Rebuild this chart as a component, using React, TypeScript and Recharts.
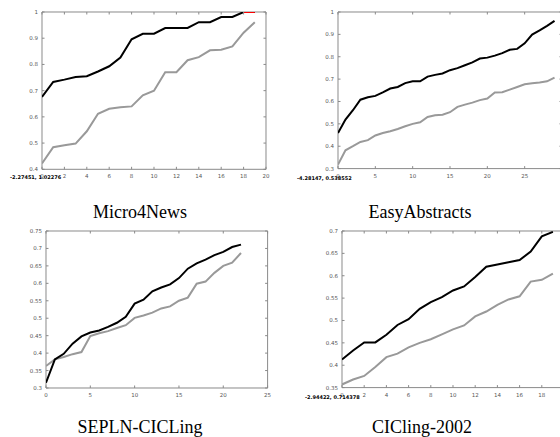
import React from 'react';
import { LineChart, Line, XAxis, YAxis, ReferenceArea } from 'recharts';

// ---- Micro4News ----
const micro4newsBlack = [0.676, 0.733, 0.742, 0.752, 0.755, 0.773, 0.793, 0.826, 0.896, 0.917, 0.917, 0.939, 0.939, 0.939, 0.961, 0.961, 0.981, 0.981, 1.0, 1.0];
const micro4newsGray = [0.422, 0.484, 0.492, 0.498, 0.545, 0.612, 0.631, 0.637, 0.640, 0.682, 0.700, 0.770, 0.770, 0.816, 0.828, 0.854, 0.856, 0.869, 0.921, 0.961];
const micro4newsRed: (number | null)[] = [null, null, null, null, null, null, null, null, null, null, null, null, null, null, null, null, null, null, 1.0, 1.0];
const micro4newsXTicks = [0, 2, 4, 6, 8, 10, 12, 14, 16, 18, 20];
const micro4newsYTicks = [0.4, 0.5, 0.6, 0.7, 0.8, 0.9, 1];

// ---- EasyAbstracts ----
const easyBlack = [0.459, 0.519, 0.561, 0.608, 0.619, 0.625, 0.641, 0.658, 0.665, 0.682, 0.690, 0.690, 0.711, 0.719, 0.725, 0.740, 0.749, 0.762, 0.775, 0.792, 0.796, 0.805, 0.816, 0.831, 0.835, 0.860, 0.899, 0.918, 0.938, 0.960];
const easyGray = [0.318, 0.382, 0.400, 0.419, 0.427, 0.448, 0.459, 0.467, 0.477, 0.489, 0.500, 0.507, 0.531, 0.538, 0.541, 0.552, 0.576, 0.586, 0.595, 0.606, 0.613, 0.640, 0.641, 0.653, 0.665, 0.677, 0.682, 0.685, 0.690, 0.707];
const easyXTicks = [0, 5, 10, 15, 20, 25];
const easyXMax = 30;
const easyYTicks = [0.3, 0.4, 0.5, 0.6, 0.7, 0.8, 0.9, 1];

// ---- SEPLN-CICLing ----
const seplnBlack = [0.315, 0.382, 0.398, 0.427, 0.448, 0.459, 0.465, 0.475, 0.487, 0.504, 0.542, 0.553, 0.577, 0.588, 0.597, 0.615, 0.642, 0.657, 0.668, 0.681, 0.690, 0.704, 0.711];
const seplnGray = [0.363, 0.382, 0.389, 0.397, 0.403, 0.449, 0.457, 0.463, 0.472, 0.480, 0.501, 0.508, 0.516, 0.528, 0.534, 0.550, 0.559, 0.599, 0.605, 0.630, 0.650, 0.659, 0.687];
const seplnXTicks = [0, 5, 10, 15, 20, 25];
const seplnYTicks = [0.3, 0.35, 0.4, 0.45, 0.5, 0.55, 0.6, 0.65, 0.7, 0.75];

// ---- CICling-2002 ----
const cicBlack = [0.413, 0.433, 0.451, 0.451, 0.468, 0.490, 0.503, 0.526, 0.541, 0.552, 0.567, 0.576, 0.597, 0.620, 0.625, 0.630, 0.635, 0.654, 0.688, 0.698];
const cicGray = [0.357, 0.368, 0.376, 0.396, 0.418, 0.426, 0.440, 0.450, 0.458, 0.469, 0.480, 0.489, 0.509, 0.520, 0.535, 0.547, 0.554, 0.587, 0.591, 0.605];
const cicXTicks = [0, 2, 4, 6, 8, 10, 12, 14, 16, 18];
const cicXMax = 20;
const cicYTicks = [0.35, 0.4, 0.45, 0.5, 0.55, 0.6, 0.65, 0.7];

const titles = ['Micro4News', 'EasyAbstracts', 'SEPLN-CICLing', 'CICling-2002'];
const cornerLabels = ['-2.27451, 1.02276', '-4.28147, 0.538552', '', '-2.94422, 0.714378'];

const FRAME = '#8a8a8a';
const TICKTXT = '#555';
const fmt = (v: number) => String(Math.round(v * 100) / 100);

type PanelProps = {
  black: number[];
  gray: number[];
  red?: (number | null)[];
  xTicks: number[];
  xMax?: number;
  yTicks: number[];
  plot: { left: number; top: number; width: number; height: number };
};

const LM = 40;
const TM = 5;

function Panel({ black, gray, red, xTicks, xMax, yTicks, plot }: PanelProps) {
  const data = black.map((b, i) => ({ x: i, b, g: gray[i], r: red ? red[i] : null }));
  const W = plot.width + LM + 10;
  const H = plot.height + TM + 20;
  const top = TM;
  const bottom = TM + plot.height;
  const left = LM;
  const right = LM + plot.width;
  const xMin = xTicks[0];
  const xHi = xMax ?? xTicks[xTicks.length - 1];
  const yMin = yTicks[0];
  const yMax = yTicks[yTicks.length - 1];

  const XTick = (p: any) => {
    const cx = p.x;
    return (
      <g>
        <line x1={cx} x2={cx} y1={bottom} y2={bottom - 2.5} stroke={FRAME} strokeWidth={1} />
        <line x1={cx} x2={cx} y1={top} y2={top + 2.5} stroke={FRAME} strokeWidth={1} />
        <text x={cx} y={bottom + 9} textAnchor="middle" fontSize={5.5} fill={TICKTXT} fontFamily="DejaVu Sans">
          {fmt(p.payload.value)}
        </text>
      </g>
    );
  };
  const YTick = (p: any) => {
    const cy = p.y;
    return (
      <g>
        <line x1={left} x2={left + 2.5} y1={cy} y2={cy} stroke={FRAME} strokeWidth={1} />
        <line x1={right} x2={right - 2.5} y1={cy} y2={cy} stroke={FRAME} strokeWidth={1} />
        <text x={left - 4} y={cy + 2} textAnchor="end" fontSize={5.5} fill={TICKTXT} fontFamily="DejaVu Sans">
          {fmt(p.payload.value)}
        </text>
      </g>
    );
  };

  return (
    <div style={{ position: 'absolute', left: plot.left - LM, top: plot.top - TM }}>
      <LineChart width={W} height={H} data={data} margin={{ top: TM, right: 10, left: 0, bottom: 0 }}>
        <XAxis
          dataKey="x"
          type="number"
          domain={[xMin, xHi]}
          ticks={xTicks}
          interval={0}
          height={20}
          axisLine={false}
          tickLine={false}
          tick={XTick}
          allowDataOverflow
        />
        <YAxis
          type="number"
          domain={[yMin, yMax]}
          ticks={yTicks}
          interval={0}
          width={LM}
          axisLine={false}
          tickLine={false}
          tick={YTick}
          allowDataOverflow
        />
        <ReferenceArea x1={xMin} x2={xHi} y1={yMin} y2={yMax} fill="none" fillOpacity={0} stroke={FRAME} strokeWidth={1} ifOverflow="visible" />
        <Line type="linear" dataKey="g" stroke="#999999" strokeWidth={2} dot={false} isAnimationActive={false} />
        <Line type="linear" dataKey="b" stroke="#000000" strokeWidth={2} dot={false} isAnimationActive={false} />
        {red ? (
          <Line type="linear" dataKey="r" stroke="#ff0000" strokeWidth={2} dot={false} isAnimationActive={false} connectNulls={false} />
        ) : null}
      </LineChart>
    </div>
  );
}

export default function App() {
  return (
    <div style={{ position: 'absolute', left: 0, top: 0, width: 560, height: 437, overflow: 'hidden', background: '#fff' }}>
      <Panel black={micro4newsBlack} gray={micro4newsGray} red={micro4newsRed} xTicks={micro4newsXTicks} yTicks={micro4newsYTicks}
        plot={{ left: 42, top: 11.7, width: 224, height: 157.3 }} />
      <Panel black={easyBlack} gray={easyGray} xTicks={easyXTicks} xMax={easyXMax} yTicks={easyYTicks}
        plot={{ left: 338.3, top: 11.7, width: 224, height: 156.6 }} />
      <Panel black={seplnBlack} gray={seplnGray} xTicks={seplnXTicks} yTicks={seplnYTicks}
        plot={{ left: 45.7, top: 230.7, width: 221.6, height: 157 }} />
      <Panel black={cicBlack} gray={cicGray} xTicks={cicXTicks} xMax={cicXMax} yTicks={cicYTicks}
        plot={{ left: 341.7, top: 230.7, width: 222, height: 156.6 }} />
      <svg width={560} height={437} style={{ position: 'absolute', left: 0, top: 0, pointerEvents: 'none' }}>
        <text x={140} y={218} textAnchor="middle" fontSize={18} fontFamily="Liberation Serif" fill="#000">{titles[0]}</text>
        <text x={420} y={218} textAnchor="middle" fontSize={18} fontFamily="Liberation Serif" fill="#000">{titles[1]}</text>
        <text x={140} y={433} textAnchor="middle" fontSize={18} fontFamily="Liberation Serif" fill="#000">{titles[2]}</text>
        <text x={422} y={433} textAnchor="middle" fontSize={18} fontFamily="Liberation Serif" fill="#000">{titles[3]}</text>
        <text x={10} y={179} fontSize={5} fontWeight="bold" fontFamily="DejaVu Sans" fill="#000">{cornerLabels[0]}</text>
        <text x={297} y={180} fontSize={5} fontWeight="bold" fontFamily="DejaVu Sans" fill="#000">{cornerLabels[1]}</text>
        <text x={305} y={399} fontSize={5} fontWeight="bold" fontFamily="DejaVu Sans" fill="#000">{cornerLabels[3]}</text>
      </svg>
    </div>
  );
}
